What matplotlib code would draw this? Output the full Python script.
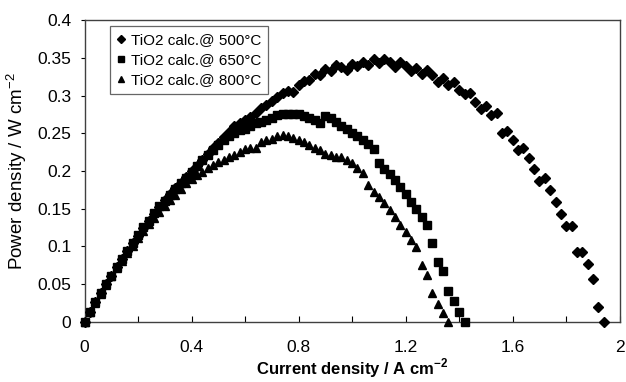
import matplotlib
matplotlib.use("Agg")
import matplotlib.pyplot as plt
from matplotlib.ticker import MultipleLocator

plt.rcParams['font.family'] = ['Liberation Sans', 'DejaVu Sans']
plt.rcParams['mathtext.fontset'] = 'custom'
plt.rcParams['mathtext.rm'] = 'Liberation Sans'
plt.rcParams['mathtext.bf'] = 'Liberation Sans:bold'

# ---- data ----
x_500 = [0.00, 0.02, 0.04, 0.06, 0.08, 0.10, 0.12, 0.14, 0.16, 0.18,
         0.20, 0.22, 0.24, 0.26, 0.28, 0.30, 0.32, 0.34, 0.36, 0.38,
         0.40, 0.42, 0.44, 0.46, 0.48, 0.50, 0.52, 0.54, 0.56, 0.58,
         0.60, 0.62, 0.64, 0.66, 0.68, 0.70, 0.72, 0.74, 0.76, 0.78,
         0.80, 0.82, 0.84, 0.86, 0.88, 0.90, 0.92, 0.94, 0.96, 0.98,
         1.00, 1.02, 1.04, 1.06, 1.08, 1.10, 1.12, 1.14, 1.16, 1.18,
         1.20, 1.22, 1.24, 1.26, 1.28, 1.30, 1.32, 1.34, 1.36, 1.38,
         1.40, 1.42, 1.44, 1.46, 1.48, 1.50, 1.52, 1.54, 1.56, 1.58,
         1.60, 1.62, 1.64, 1.66, 1.68, 1.70, 1.72, 1.74, 1.76, 1.78,
         1.80, 1.82, 1.84, 1.86, 1.88, 1.90, 1.92, 1.94]
y_500 = [0.000, 0.013, 0.026, 0.038, 0.050, 0.061, 0.072, 0.083, 0.094, 0.104,
         0.114, 0.124, 0.134, 0.143, 0.152, 0.161, 0.169, 0.177, 0.184, 0.192,
         0.200, 0.207, 0.215, 0.222, 0.230, 0.237, 0.245, 0.252, 0.259, 0.264,
         0.268, 0.272, 0.277, 0.283, 0.288, 0.293, 0.298, 0.303, 0.306, 0.305,
         0.314, 0.320, 0.321, 0.329, 0.327, 0.335, 0.332, 0.340, 0.338, 0.334,
         0.342, 0.339, 0.345, 0.340, 0.348, 0.343, 0.349, 0.345, 0.338, 0.345,
         0.339, 0.332, 0.337, 0.329, 0.334, 0.327, 0.318, 0.323, 0.314, 0.318,
         0.308, 0.302, 0.303, 0.292, 0.282, 0.286, 0.274, 0.277, 0.251, 0.253,
         0.241, 0.228, 0.230, 0.217, 0.202, 0.187, 0.190, 0.175, 0.159, 0.143,
         0.127, 0.127, 0.092, 0.093, 0.076, 0.056, 0.019, 0.000]

x_650 = [0.00, 0.02, 0.04, 0.06, 0.08, 0.10, 0.12, 0.14, 0.16, 0.18,
         0.20, 0.22, 0.24, 0.26, 0.28, 0.30, 0.32, 0.34, 0.36, 0.38,
         0.40, 0.42, 0.44, 0.46, 0.48, 0.50, 0.52, 0.54, 0.56, 0.58,
         0.60, 0.62, 0.64, 0.66, 0.68, 0.70, 0.72, 0.74, 0.76, 0.78,
         0.80, 0.82, 0.84, 0.86, 0.88, 0.90, 0.92, 0.94, 0.96, 0.98,
         1.00, 1.02, 1.04, 1.06, 1.08, 1.10, 1.12, 1.14, 1.16, 1.18,
         1.20, 1.22, 1.24, 1.26, 1.28, 1.30, 1.32, 1.34, 1.36, 1.38,
         1.40, 1.42]
y_650 = [0.000, 0.013, 0.026, 0.038, 0.050, 0.061, 0.072, 0.083, 0.094, 0.105,
         0.115, 0.125, 0.134, 0.144, 0.153, 0.160, 0.168, 0.176, 0.184, 0.191,
         0.199, 0.207, 0.214, 0.221, 0.228, 0.235, 0.241, 0.247, 0.251, 0.254,
         0.256, 0.260, 0.263, 0.265, 0.268, 0.270, 0.274, 0.276, 0.276, 0.276,
         0.275, 0.273, 0.270, 0.268, 0.264, 0.273, 0.270, 0.265, 0.260, 0.256,
         0.251, 0.246, 0.241, 0.236, 0.229, 0.210, 0.203, 0.196, 0.188, 0.179,
         0.170, 0.159, 0.150, 0.139, 0.128, 0.105, 0.079, 0.067, 0.041, 0.027,
         0.013, 0.000]

x_800 = [0.00, 0.02, 0.04, 0.06, 0.08, 0.10, 0.12, 0.14, 0.16, 0.18,
         0.20, 0.22, 0.24, 0.26, 0.28, 0.30, 0.32, 0.34, 0.36, 0.38,
         0.40, 0.42, 0.44, 0.46, 0.48, 0.50, 0.52, 0.54, 0.56, 0.58,
         0.60, 0.62, 0.64, 0.66, 0.68, 0.70, 0.72, 0.74, 0.76, 0.78,
         0.80, 0.82, 0.84, 0.86, 0.88, 0.90, 0.92, 0.94, 0.96, 0.98,
         1.00, 1.02, 1.04, 1.06, 1.08, 1.10, 1.12, 1.14, 1.16, 1.18,
         1.20, 1.22, 1.24, 1.26, 1.28, 1.30, 1.32, 1.34, 1.36]
y_800 = [0.000, 0.013, 0.025, 0.037, 0.049, 0.060, 0.071, 0.081, 0.091, 0.101,
         0.111, 0.120, 0.129, 0.138, 0.146, 0.154, 0.161, 0.168, 0.176, 0.184,
         0.189, 0.195, 0.199, 0.204, 0.208, 0.212, 0.215, 0.218, 0.221, 0.225,
         0.229, 0.230, 0.231, 0.238, 0.241, 0.243, 0.247, 0.248, 0.246, 0.244,
         0.241, 0.238, 0.234, 0.231, 0.228, 0.223, 0.221, 0.219, 0.218, 0.215,
         0.211, 0.204, 0.197, 0.181, 0.172, 0.165, 0.157, 0.148, 0.139, 0.128,
         0.119, 0.108, 0.099, 0.075, 0.062, 0.038, 0.024, 0.011, 0.000]

labels = ["TiO2 calc.@ 500°C", "TiO2 calc.@ 650°C", "TiO2 calc.@ 800°C"]
x_ticks = [0, 0.4, 0.8, 1.2, 1.6, 2]
x_tick_labels = ["0", "0.4", "0.8", "1.2", "1.6", "2"]
y_ticks = [0, 0.05, 0.1, 0.15, 0.2, 0.25, 0.3, 0.35, 0.4]
y_tick_labels = ["0", "0.05", "0.1", "0.15", "0.2", "0.25", "0.3", "0.35", "0.4"]

# ---- figure ----
fig = plt.figure(figsize=(6.26, 3.82), dpi=100)
ax = fig.add_axes([0.135, 0.158, 0.855, 0.789])

h500, = ax.plot(x_500, y_500, linestyle='none', marker='D', markersize=4.8,
                color='black', clip_on=False, zorder=3)
h800, = ax.plot(x_800, y_800, linestyle='none', marker='^', markersize=6,
                color='black', clip_on=False, zorder=3)
h650, = ax.plot(x_650, y_650, linestyle='none', marker='s', markersize=5.4,
                color='black', clip_on=False, zorder=4)

ax.set_xlim(0, 2)
ax.set_ylim(0, 0.4)
ax.set_xticks(x_ticks)
ax.set_xticklabels(x_tick_labels)
ax.xaxis.set_minor_locator(MultipleLocator(0.2))
ax.set_yticks(y_ticks)
ax.set_yticklabels(y_tick_labels)

ax.tick_params(axis='x', which='both', direction='in', length=4, width=0.8,
               labelsize=12.5, pad=13, colors='black')
ax.tick_params(axis='y', which='both', direction='out', length=3, width=0.8,
               labelsize=12.5, pad=6.5, colors='black')

for s in ax.spines.values():
    s.set_color('#404040')
    s.set_linewidth(1.0)

ax.set_xlabel(r"Current density / A cm$^{\mathbf{-2}}$", fontsize=12,
              fontweight='bold', labelpad=1.5)
ax.set_ylabel(r"Power density / W cm$^{\mathrm{-2}}$", fontsize=13.5, labelpad=6)

leg = ax.legend([h500, h650, h800], labels, loc='upper left',
                bbox_to_anchor=(0.033, 1.005), fontsize=11, frameon=True,
                fancybox=False, edgecolor='#404040', handlelength=0.6,
                handletextpad=0.35, borderpad=0.45, labelspacing=0.38,
                markerscale=0.8)
leg.get_frame().set_linewidth(0.9)

fig.savefig("out.png", dpi=100)
